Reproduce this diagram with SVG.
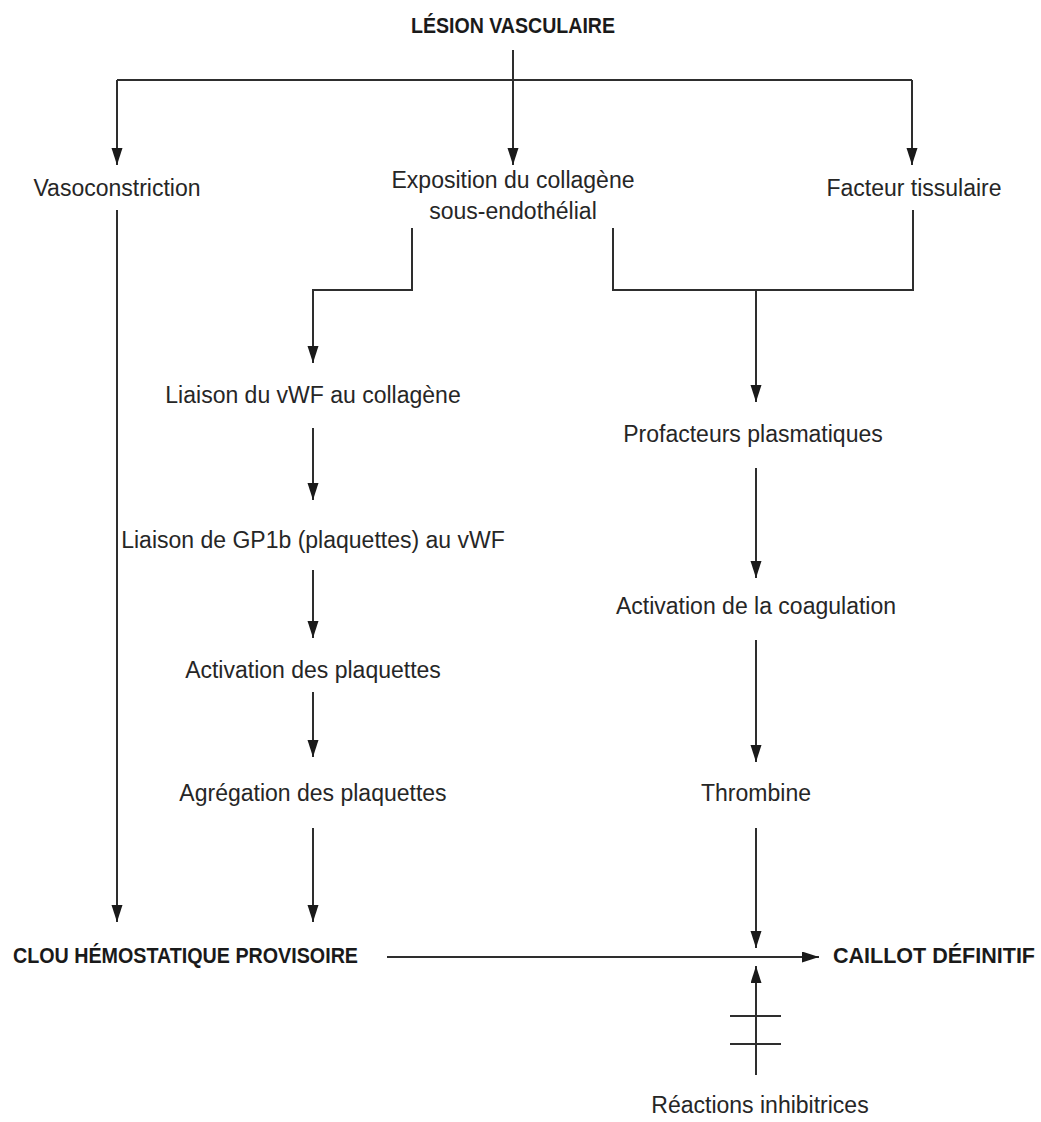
<svg xmlns="http://www.w3.org/2000/svg" width="1041" height="1122" viewBox="0 0 1041 1122">
<style>
.t{font-family:"Liberation Sans",Arial,sans-serif;font-size:23px;fill:#262626;text-anchor:middle}
.b{font-family:"Liberation Sans",Arial,sans-serif;font-size:22px;font-weight:bold;fill:#1a1a1a}
.l{fill:none;stroke:#2e2e2e;stroke-width:2}
.a{marker-end:url(#ah)}
</style>
<defs>
<marker id="ah" markerUnits="userSpaceOnUse" markerWidth="18" markerHeight="12" refX="17" refY="5.5" orient="auto">
<path d="M0,0 L17,5.5 L0,11 z" fill="#1a1a1a"/>
</marker>
</defs>
<rect width="1041" height="1122" fill="#ffffff"/>
<g id="connectors">
<line class="l a" x1="513" y1="50" x2="513" y2="165"/>
<line class="l" x1="117" y1="80" x2="912" y2="80"/>
<line class="l a" x1="117" y1="80" x2="117" y2="165"/>
<line class="l a" x1="912" y1="80" x2="912" y2="165"/>
<line class="l a" x1="117" y1="210" x2="117" y2="922"/>
<polyline class="l a" points="412,228 412,290 313,290 313,363"/>
<polyline class="l" points="613,228 613,290 913,290 913,210"/>
<line class="l a" x1="756" y1="290" x2="756" y2="402"/>
<line class="l a" x1="313" y1="428" x2="313" y2="500"/>
<line class="l a" x1="313" y1="570" x2="313" y2="638"/>
<line class="l a" x1="313" y1="692" x2="313" y2="757"/>
<line class="l a" x1="313" y1="828" x2="313" y2="922"/>
<line class="l a" x1="756" y1="468" x2="756" y2="578"/>
<line class="l a" x1="756" y1="640" x2="756" y2="762"/>
<line class="l a" x1="756" y1="828" x2="756" y2="948"/>
<line class="l a" x1="387" y1="957" x2="819" y2="957"/>
<line class="l a" x1="756" y1="1075" x2="756" y2="966"/>
<line class="l" x1="730" y1="1016" x2="781" y2="1016"/>
<line class="l" x1="730" y1="1044" x2="781" y2="1044"/>
</g>
<g id="n-lesion"><text class="b" x="513" y="33" text-anchor="middle" textLength="204" lengthAdjust="spacingAndGlyphs">LÉSION VASCULAIRE</text></g>
<g id="n-vaso"><text class="t" x="117" y="196">Vasoconstriction</text></g>
<g id="n-expo"><text class="t" x="513" y="188">Exposition du collagène</text><text class="t" x="513" y="219">sous-endothélial</text></g>
<g id="n-facteur"><text class="t" x="914" y="196">Facteur tissulaire</text></g>
<g id="n-vwf"><text class="t" x="313" y="403">Liaison du vWF au collagène</text></g>
<g id="n-gp1b"><text class="t" x="313" y="548">Liaison de GP1b (plaquettes) au vWF</text></g>
<g id="n-activ-plaq"><text class="t" x="313" y="678">Activation des plaquettes</text></g>
<g id="n-agreg"><text class="t" x="313" y="801">Agrégation des plaquettes</text></g>
<g id="n-profact"><text class="t" x="753" y="442">Profacteurs plasmatiques</text></g>
<g id="n-activ-coag"><text class="t" x="756" y="614">Activation de la coagulation</text></g>
<g id="n-thrombine"><text class="t" x="756" y="801">Thrombine</text></g>
<g id="n-clou"><text class="b" x="13" y="963" textLength="345" lengthAdjust="spacingAndGlyphs">CLOU HÉMOSTATIQUE PROVISOIRE</text></g>
<g id="n-caillot"><text class="b" x="833" y="963" textLength="202" lengthAdjust="spacingAndGlyphs">CAILLOT DÉFINITIF</text></g>
<g id="n-inhib"><text class="t" x="760" y="1113">Réactions inhibitrices</text></g>
</svg>
